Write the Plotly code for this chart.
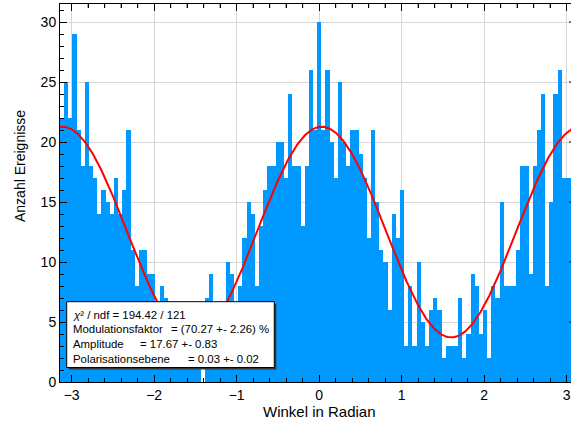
import numpy as np
import plotly.graph_objects as go

# Histogram of measured azimuthal angles, 125 bins from -pi to pi
N_BINS = 125
counts = [
    22, 25, 22, 29, 21, 18, 25, 18, 17, 14,   # bins 0-9
    16, 15, 14, 17, 14, 16, 21, 11, 8, 11,    # 10-19
    11, 9, 9, 6, 8, 7, 5, 6, 4, 3,            # 20-29
    5, 2, 4, 3, 0, 7, 9, 5, 4, 6,             # 30-39
    10, 9, 6, 8, 12, 15, 14, 8, 13, 16,       # 40-49
    18, 18, 20, 20, 17, 24, 18, 18, 13, 18,   # 50-59
    26, 21, 30, 21, 26, 20, 17, 25, 20, 18,   # 60-69
    21, 21, 19, 17, 12, 21, 15, 11, 10, 6,    # 70-79
    14, 12, 16, 3, 8, 3, 10, 5, 3, 6,         # 80-89
    7, 6, 2, 3, 3, 3, 7, 2, 4, 9,             # 90-99
    8, 4, 6, 2, 8, 7, 15, 8, 8, 8,            # 100-109
    11, 18, 18, 9, 18, 21, 24, 8, 15, 24,     # 110-119
    26, 17, 17, 17, 20,                       # 120-124
]

# Fit results shown in the statistics box
CHI2 = 194.42
NDF = 121
MODULATION = 0.7027
MODULATION_ERR = 0.0226
AMPLITUDE = 17.67
AMPLITUDE_ERR = 0.83
PLANE = 0.03
PLANE_ERR = 0.02

X_TITLE = "Winkel in Radian"
Y_TITLE = "Anzahl Ereignisse"

# ---- geometry of the canvas (pixels) ----
W, H = 571, 421
L, T, B = 60, 4, 39
PX_PER_UNIT = 82.5
plot_w = W - L
plot_h = H - T - B
x_lo = -np.pi
x_hi = x_lo + plot_w / PX_PER_UNIT
y_hi = 31.5


def px_x(px):
    return (px - L) / plot_w


def px_y(py):
    return (T + plot_h - py) / plot_h


edges = np.linspace(-np.pi, np.pi, N_BINS + 1)
centers = 0.5 * (edges[:-1] + edges[1:])
bw = edges[1] - edges[0]

# fitted modulation curve (amplitude normalised per sqrt(2))
xf = np.linspace(-np.pi, np.pi, 600)
level = AMPLITUDE / np.sqrt(2)
yf = level * (1 + MODULATION * np.cos(2 * (xf - PLANE)))

FONT = "Liberation Sans, Arial, Helvetica, sans-serif"

fig = go.Figure()
fig.add_trace(go.Bar(
    x=centers, y=counts, width=bw,
    marker=dict(color="#0099ff", line=dict(width=0)),
    hoverinfo="skip", showlegend=False,
))
fig.add_trace(go.Scatter(
    x=xf, y=yf, mode="lines",
    line=dict(color="#ff0000", width=2),
    hoverinfo="skip", showlegend=False,
))

axis_common = dict(
    showline=True, linecolor="black", linewidth=1,
    ticks="inside", tickcolor="black", ticklen=7, tickwidth=1,
    showgrid=True, gridcolor="#d6d6d6", gridwidth=1,
    zeroline=False,
    tickfont=dict(family=FONT, size=14, color="black"),
)

fig.update_layout(
    width=W, height=H,
    margin=dict(l=L, r=0, t=T, b=B, pad=0),
    paper_bgcolor="white", plot_bgcolor="white",
    bargap=0,
    font=dict(family=FONT, color="black"),
    xaxis=dict(
        axis_common, range=[x_lo, x_hi], dtick=1, tick0=0,
        mirror="ticks",
        minor=dict(dtick=0.2, tick0=0, ticks="inside", ticklen=4,
                   tickcolor="black", showgrid=False),
    ),
    yaxis=dict(
        axis_common, range=[0, y_hi], dtick=5, tick0=0,
        mirror=False,
        minor=dict(dtick=1, tick0=0, ticks="inside", ticklen=4,
                   tickcolor="black", showgrid=False),
    ),
)

# minor ticks along the top frame
top_len = 4 / plot_h
for k in range(-15, 16):
    if k % 5 == 0:
        continue
    v = k * 0.2
    if x_lo <= v <= x_hi:
        fig.add_shape(type="line", xref="x", yref="paper",
                      x0=v, x1=v, y0=1.0, y1=1.0 - top_len,
                      line=dict(color="black", width=1), layer="above")

# y ticks of the right-hand frame reaching into view
for v in range(5, 31, 5):
    fig.add_shape(type="line", xref="paper", yref="y",
                  x0=px_x(569), x1=1.0, y0=v, y1=v,
                  line=dict(color="black", width=1), layer="above")

# axis titles
fig.add_annotation(
    text=X_TITLE, xref="paper", yref="paper",
    x=px_x(319), y=px_y(411), xanchor="center", yanchor="middle",
    showarrow=False, font=dict(family=FONT, size=15, color="black"),
)
fig.add_annotation(
    text=Y_TITLE, xref="paper", yref="paper",
    x=px_x(20), y=px_y(166), xanchor="center", yanchor="middle",
    textangle=-90, showarrow=False,
    font=dict(family=FONT, size=14, color="black"),
)

# statistics box with shadow
bx0, bx1, by0, by1 = 66.7, 274.3, 301.7, 367.5
fig.add_shape(type="rect", xref="paper", yref="paper",
              x0=px_x(bx0 + 2), x1=px_x(bx1 + 2),
              y0=px_y(by1 + 2), y1=px_y(by0 + 2),
              fillcolor="#333333", line=dict(width=0), layer="above")
fig.add_shape(type="rect", xref="paper", yref="paper",
              x0=px_x(bx0), x1=px_x(bx1), y0=px_y(by1), y1=px_y(by0),
              fillcolor="white", line=dict(color="black", width=1),
              layer="above")

stat_font = dict(family=FONT, size=11.4, color="black")
rows = [
    (315.0, f"<i>χ</i>² / ndf = {CHI2:.2f} / {NDF}", None, None),
    (329.3, "Modulationsfaktor",
     f"= ({MODULATION * 100:.2f} +- {MODULATION_ERR * 100:.2f}) %", 169.0),
    (344.0, "Amplitude", f"= {AMPLITUDE:.2f} +- {AMPLITUDE_ERR:.2f}", 138.0),
    (359.3, "Polarisationsebene", f"= {PLANE:.2f} +- {PLANE_ERR:.2f}", 185.5),
]
for ypx, name, val, vx in rows:
    fig.add_annotation(text=name, xref="paper", yref="paper",
                       x=px_x(71), y=px_y(ypx), xanchor="left",
                       yanchor="middle", showarrow=False, font=stat_font)
    if val is not None:
        fig.add_annotation(text=val, xref="paper", yref="paper",
                           x=px_x(vx), y=px_y(ypx), xanchor="left",
                           yanchor="middle", showarrow=False, font=stat_font)

fig.write_html("out.html", config={"displayModeBar": False})
